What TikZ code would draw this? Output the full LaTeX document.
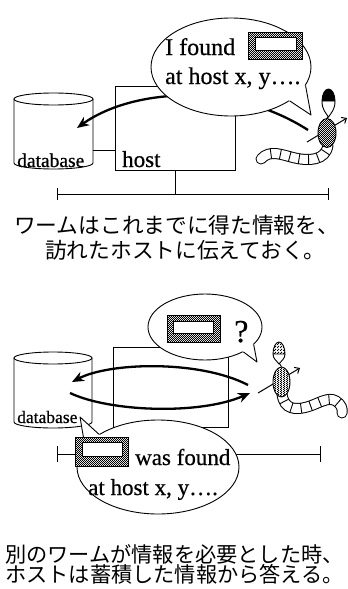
\documentclass[tikz,border=0pt]{standalone}
\usepackage{fontspec}
\setmainfont{Liberation Serif}
\newfontfamily\cjk{Noto Sans CJK JP}
\newfontfamily\inked{Liberation Serif}[FakeBold=0.6]
\usetikzlibrary{shapes.geometric,arrows.meta,patterns,decorations.markings}

% fine checkered texture used for the data blocks and the worm
\pgfdeclarepatternformonly{finechk}{\pgfqpoint{0pt}{0pt}}{\pgfqpoint{2.4pt}{2.4pt}}{\pgfqpoint{2.4pt}{2.4pt}}{%
  \pgfpathrectangle{\pgfqpoint{0pt}{0pt}}{\pgfqpoint{1.2pt}{1.2pt}}%
  \pgfpathrectangle{\pgfqpoint{1.2pt}{1.2pt}}{\pgfqpoint{1.2pt}{1.2pt}}%
  \pgfusepath{fill}}

\tikzset{
  ln/.style={line width=0.9pt},
  hostbox/.style={draw, line width=0.9pt, inner sep=0pt},
  bubble/.style={ellipse, draw, fill=white, line width=0.9pt, inner sep=0pt},
  bigarrow/.style={line width=2.3pt, -{Stealth[length=12pt,width=10pt]}},
  wormarrow/.style={line width=1pt, -{Straight Barb[length=4pt,width=7pt]}},
  chk/.style={draw, line width=0.9pt, preaction={fill=white}, pattern=finechk, inner sep=0pt},
  slot/.style={draw, fill=white, line width=0.9pt, inner sep=0pt},
  lbl/.style={inner sep=0pt, anchor=base west},
  tailband/.style={draw, double=white, double distance=9pt, line width=1pt, line cap=round},
  tailsegs/.style={decorate, decoration={markings,
      mark=between positions 0.1 and 0.95 step 0.125 with {\draw[ln] (0,-5) -- (0,5);}}},
}

% centre lines of the two worm tails
\newcommand\tailA{(328,145) .. controls (326,161) and (308,161) .. (295,158)
  .. controls (282,155) and (270,149) .. (261,159)}
\newcommand\tailB{(282,394) .. controls (284,410) and (296,410) .. (307,407)
  .. controls (318,404) and (328,396) .. (336,401) .. controls (341,404) and (343,409) .. (342,413)}

\begin{document}
\begin{tikzpicture}[x=1pt,y=-1pt]
\useasboundingbox (0,0) rectangle (348,589);

% ---------------- upper scene: the worm reports to the host ----------------
% database cylinder
\draw[ln] (14,99) -- (14,163) arc[start angle=180, end angle=0, x radius=39.5, y radius=6] -- (93,99);
\draw[ln] (53.5,99) ellipse[x radius=39.5, y radius=6];
\node[lbl, font=\fontsize{19.5}{20}\inked] (db1) at (17,167) {database};

% host box and its links
\node[hostbox, minimum width=120, minimum height=84] (h1) at (175,128) {};
\node[lbl, font=\fontsize{23}{24}\inked] (hl1) at (122,167) {host};
\coordinate (d1) at (93,150);
\draw[ln] (d1) -- (d1 -| h1.west);
\coordinate (n1l) at (57,194);
\coordinate (n1r) at (328,194);
\draw[ln] (n1l) -- (n1r);
\draw[ln] ([yshift=-6pt]n1l) -- ([yshift=6pt]n1l);
\draw[ln] ([yshift=-6pt]n1r) -- ([yshift=6pt]n1r);
\draw[ln] (h1.south) -- (h1.south |- n1l);

% information handed over to the database
\coordinate (a1s) at (308,130);
\coordinate (a1e) at (77,128);
\draw[bigarrow] (a1s) .. controls (230,80) and (130,90) .. (a1e);

% speech bubble
\node[bubble, minimum width=160, minimum height=98] (b1) at (231,67) {};
\coordinate (t1) at (311,115);
\fill[white] (b1.-30) -- (t1) -- (b1.-14) -- (b1.center) -- cycle;
\draw[ln, line join=round] (b1.-30) -- (t1) -- (b1.-14);
\node[lbl, font=\fontsize{24}{25}\inked] (tx1) at (165,55) {I found};
\node[lbl, font=\fontsize{24}{25}\inked] (tx2) at (165,84) {at host x, y….};
\node[chk, minimum width=54, minimum height=27, anchor=north west] (r1) at (248,32) {};
\node[slot, minimum width=41, minimum height=13, anchor=north west] (s1) at (255,37) {};

% worm
\coordinate (w1a) at (307,142);
\coordinate (w1b) at (347,118);
\draw[wormarrow] (w1a) -- (w1b);
\path[tailband] \tailA;
\path[tailsegs] \tailA;
\node[chk, ellipse, minimum width=18, minimum height=29] (wb1) at (327,133) {};
\draw[ln] (328.5,116) -- (wb1.north);
\fill[white] (322,101) .. controls (322,110) and (326,113) .. (328.5,117)
  .. controls (331,113) and (335,110) .. (335,101) -- cycle;
\draw[ln] (322,101) .. controls (322,110) and (326,113) .. (328.5,117)
  .. controls (331,113) and (335,110) .. (335,101);
\filldraw[ln] (322,101) arc[start angle=180, end angle=360, x radius=6.5, y radius=12] -- cycle;

% captions
\node[lbl, font=\fontsize{21.7}{26}\cjk] (c1) at (14,233) {ワームはこれまでに得た情報を、};
\node[lbl, font=\fontsize{21.7}{26}\cjk] (c2) at (45,258) {訪れたホストに伝えておく。};

% ---------------- lower scene: the host answers from its store ----------------
\draw[ln] (14,358) -- (14,422) arc[start angle=180, end angle=0, x radius=39, y radius=6] -- (92,358);
\draw[ln] (53,358) ellipse[x radius=39, y radius=6];

\node[hostbox, minimum width=115, minimum height=80] (h2) at (170.5,387) {};
\coordinate (n2l) at (57,454);
\coordinate (n2r) at (320,454);
\draw[ln] (n2l) -- (n2r);
\draw[ln] ([yshift=-8pt]n2l) -- ([yshift=8pt]n2l);
\draw[ln] ([yshift=-8pt]n2r) -- ([yshift=8pt]n2r);

% question and answer flows
\draw[bigarrow] (248,385) .. controls (200,360) and (110,362) .. (72,382);
\draw[bigarrow] (70,393) .. controls (110,412) and (200,415) .. (250,393);

% question bubble
\node[bubble, minimum width=114, minimum height=66] (b2) at (205,327) {};
\coordinate (t2) at (257,362);
\fill[white] (b2.-33) -- (t2) -- (b2.-20) -- (b2.center) -- cycle;
\draw[ln, line join=round] (b2.-33) -- (t2) -- (b2.-20);
\node[chk, minimum width=53, minimum height=27, anchor=north west] (r2) at (167,315) {};
\node[slot, minimum width=40, minimum height=12, anchor=north west] (s2) at (173,321) {};
\node[lbl, font=\fontsize{32}{33}\inked] (q2) at (234,342) {?};

% answer bubble
\node[bubble, minimum width=162, minimum height=94] (b3) at (158,467) {};
\coordinate (t3) at (80,417);
\fill[white] (b3.164) -- (t3) -- (b3.151) -- (b3.center) -- cycle;
\draw[ln, line join=round] (b3.164) -- (t3) -- (b3.151);
\node[lbl, font=\fontsize{17.5}{18}\inked] (db2) at (17,423) {database};
\node[chk, minimum width=53, minimum height=29, anchor=north west] (r3) at (75,437) {};
\node[slot, minimum width=40, minimum height=14, anchor=north west] (s3) at (82,442) {};
\node[lbl, font=\fontsize{23}{24}\inked] (tx3) at (135,465) {was found};
\node[lbl, font=\fontsize{23}{24}\inked] (tx4) at (88,495) {at host x, y….};

% worm
\coordinate (w2a) at (258,393);
\coordinate (w2b) at (300,368);
\draw[wormarrow] (w2a) -- (w2b);
\path[tailband] \tailB;
\path[tailsegs] \tailB;
\node[chk, ellipse, minimum width=17, minimum height=30] (wb2) at (281.5,382) {};
\draw[ln] (279,363) -- (wb2.north);
\fill[white] (273,354) .. controls (273,359) and (277,361) .. (279,364)
  .. controls (281,361) and (285,359) .. (285,354) -- cycle;
\draw[ln] (273,354) .. controls (273,359) and (277,361) .. (279,364)
  .. controls (281,361) and (285,359) .. (285,354);
\draw[ln, preaction={fill=white}, pattern=finechk] (273,354) arc[start angle=180, end angle=360, x radius=6, y radius=12] -- cycle;

% captions
\node[lbl, font=\fontsize{21.2}{26}\cjk] (c3) at (5,562) {別のワームが情報を必要とした時、};
\node[lbl, font=\fontsize{21.2}{26}\cjk] (c4) at (5,582) {ホストは蓄積した情報から答える。};
\end{tikzpicture}
\end{document}
